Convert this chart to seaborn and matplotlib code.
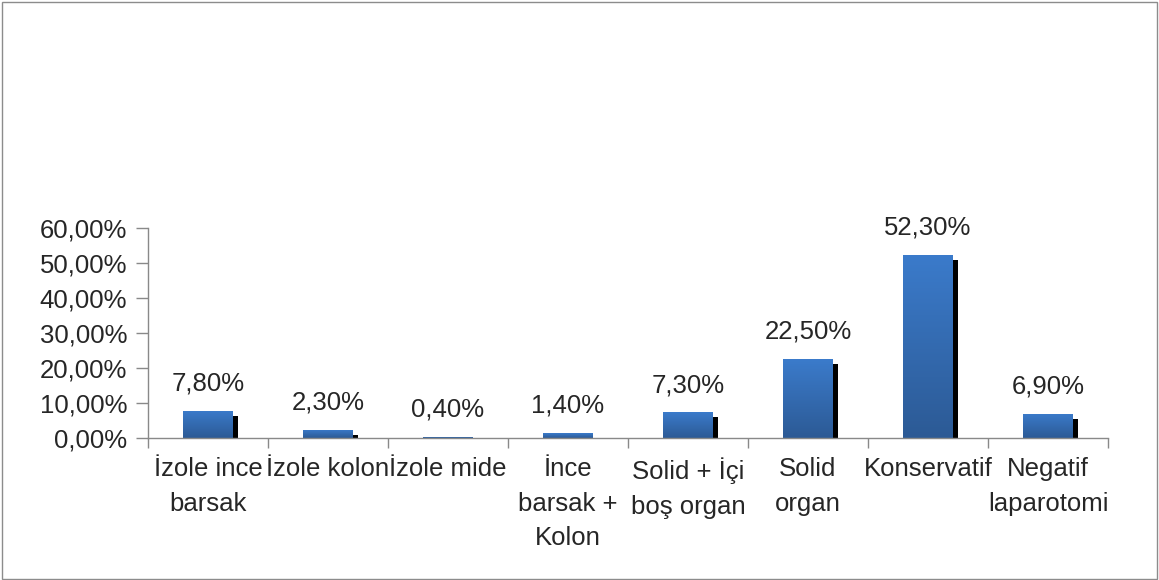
import numpy as np
import pandas as pd
import matplotlib
matplotlib.use("Agg")
import matplotlib.pyplot as plt
import matplotlib.transforms as mtransforms
from matplotlib.patches import Rectangle
from matplotlib.ticker import FixedLocator, MultipleLocator, FuncFormatter
import seaborn as sns

# data
categories = ["İzole ince\nbarsak", "İzole kolon", "İzole mide", "İnce\nbarsak +\nKolon",
              "Solid + İçi\nboş organ", "Solid\norgan", "Konservatif", "Negatif\nlaparotomi"]
values = [0.078, 0.023, 0.004, 0.014, 0.073, 0.225, 0.523, 0.069]
value_labels = ["7,80%", "2,30%", "0,40%", "1,40%", "7,30%", "22,50%", "52,30%", "6,90%"]

data = pd.DataFrame({"group": categories, "share": values})

FS = 18.5
sns.set_style("white")
plt.rcParams["font.family"] = ["Liberation Sans", "DejaVu Sans"]
plt.rcParams["font.size"] = FS

fig = plt.figure(figsize=(11.59, 5.80), dpi=100)
ax = fig.add_axes([0.1277, 0.2448, 0.8283, 0.3621])

# shadow bars (black, shifted right and down)
sns.barplot(x="group", y="share", data=data, color="black", width=0.41,
            saturation=1, ax=ax, errorbar=None)
shadow = list(ax.patches)
shift = mtransforms.ScaledTranslation(5 / 100, -5 / 100, fig.dpi_scale_trans)
for p in shadow:
    p.set_transform(ax.transData + shift)
    p.set_linewidth(0)

# main bars
sns.barplot(x="group", y="share", data=data, color="#3a78c6", width=0.41,
            saturation=1, ax=ax, errorbar=None)
main = ax.patches[len(shadow):]

# vertical gradient inside each bar
grad = np.linspace(0, 1, 256).reshape(-1, 1)
cmap = matplotlib.colors.LinearSegmentedColormap.from_list("bar", ["#2c5a95", "#3b7bcb"])
for p in main:
    p.set_linewidth(0)
    x0, y0 = p.get_x(), p.get_y()
    w, h = p.get_width(), p.get_height()
    im = ax.imshow(grad, extent=[x0, x0 + w, y0, y0 + h], origin="lower",
                   cmap=cmap, aspect="auto", zorder=p.get_zorder() + 0.1)
    im.set_clip_path(p)

for p, lab in zip(main, value_labels):
    ax.annotate(lab, (p.get_x() + p.get_width() / 2, p.get_height()),
                xytext=(0, 11), textcoords="offset points",
                ha="center", va="bottom", fontsize=FS)

ax.set_xlim(-0.5, len(categories) - 0.5)
ax.set_ylim(0, 0.6)
ax.yaxis.set_major_locator(MultipleLocator(0.1))
ax.yaxis.set_major_formatter(FuncFormatter(lambda v, _: f"{v * 100:.2f}%".replace(".", ",")))
ax.set_xlabel("")
ax.set_ylabel("")

ax.xaxis.set_minor_locator(FixedLocator(np.arange(-0.5, len(categories), 1.0)))
ax.tick_params(axis="x", which="major", length=0, pad=14, labelsize=FS)
ax.tick_params(axis="x", which="minor", length=7, width=1, color="#898989", direction="out")
ax.tick_params(axis="y", length=9, width=1, color="#898989", direction="out", pad=6, labelsize=FS)
ax.xaxis.set_tick_params(which="minor", bottom=True)
ax.yaxis.set_tick_params(left=True)
for t in ax.get_xticklabels():
    t.set_linespacing(1.55)

for side in ["top", "right"]:
    ax.spines[side].set_visible(False)
for side in ["left", "bottom"]:
    ax.spines[side].set_color("#898989")
    ax.spines[side].set_linewidth(1)

fig.add_artist(Rectangle((0.002, 0.002), 0.996, 0.995, transform=fig.transFigure,
                         fill=False, edgecolor="#8c8c8c", linewidth=1))

fig.savefig("out.png", dpi=100)
